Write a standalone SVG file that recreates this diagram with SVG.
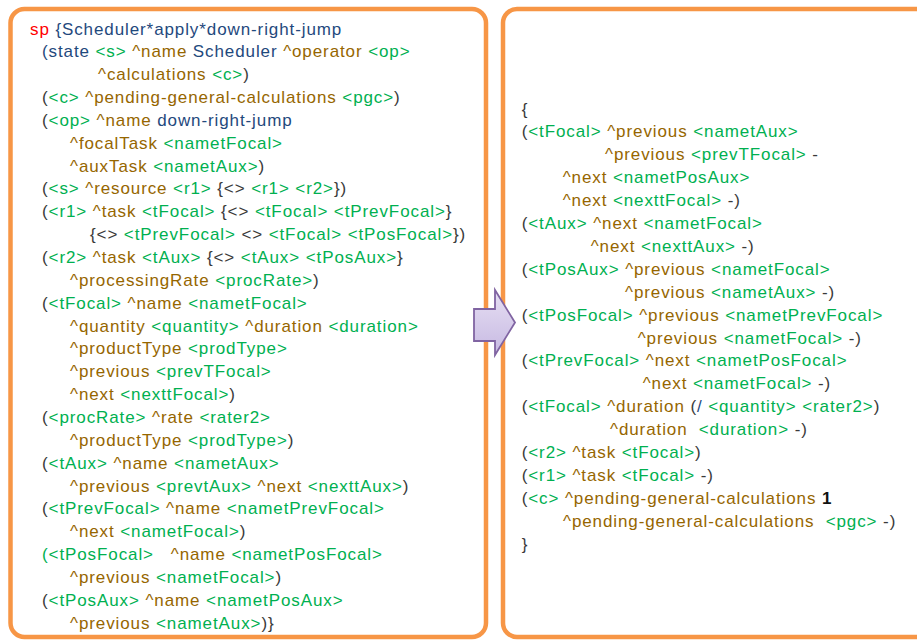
<svg xmlns="http://www.w3.org/2000/svg" width="917" height="641" viewBox="0 0 917 641">
<style>
text{font-family:"Liberation Sans",Arial,sans-serif;font-size:17px;letter-spacing:0.9px;fill:#3a3a3a;white-space:pre}
.k{fill:#3a3a3a}.g{fill:#00B050}.b{fill:#966600}.n{fill:#1F497D}.r{fill:#FF0000}.blk{fill:#111111;font-weight:bold}
.panel{fill:#ffffff;stroke:#F79646;stroke-width:4.5}
</style>
<defs>
<linearGradient id="ag" x1="0" y1="0" x2="0" y2="1">
<stop offset="0" stop-color="#E6DFF3"/>
<stop offset="1" stop-color="#C7B9E2"/>
</linearGradient>
</defs>
<rect width="917" height="641" fill="#ffffff"/>
<g id="panel-left">
<rect class="panel" x="10.5" y="9" width="475.5" height="628" rx="14"/>
<text xml:space="preserve" x="30" y="34.5"><tspan class="r">sp</tspan><tspan class="n"> {Scheduler*apply*down-right-jump</tspan></text>
<text xml:space="preserve" x="42" y="57.35"><tspan class="n">(state </tspan><tspan class="g">&lt;s&gt;</tspan><tspan class="b"> ^name </tspan><tspan class="n">Scheduler </tspan><tspan class="b">^operator </tspan><tspan class="g">&lt;op&gt;</tspan></text>
<text xml:space="preserve" x="98" y="80.2"><tspan class="b">^calculations </tspan><tspan class="g">&lt;c&gt;</tspan><tspan class="k">)</tspan></text>
<text xml:space="preserve" x="42" y="103.05"><tspan class="k">(</tspan><tspan class="g">&lt;c&gt;</tspan><tspan class="b"> ^pending-general-calculations </tspan><tspan class="g">&lt;pgc&gt;</tspan><tspan class="k">)</tspan></text>
<text xml:space="preserve" x="42" y="125.9"><tspan class="k">(</tspan><tspan class="g">&lt;op&gt;</tspan><tspan class="b"> ^name </tspan><tspan class="n">down-right-jump</tspan></text>
<text xml:space="preserve" x="70" y="148.75"><tspan class="b">^focalTask </tspan><tspan class="g">&lt;nametFocal&gt;</tspan></text>
<text xml:space="preserve" x="70" y="171.6"><tspan class="b">^auxTask </tspan><tspan class="g">&lt;nametAux&gt;</tspan><tspan class="k">)</tspan></text>
<text xml:space="preserve" x="42" y="194.45"><tspan class="k">(</tspan><tspan class="g">&lt;s&gt;</tspan><tspan class="b"> ^resource </tspan><tspan class="g">&lt;r1&gt;</tspan><tspan class="k"> {&lt;&gt; </tspan><tspan class="g">&lt;r1&gt; &lt;r2&gt;</tspan><tspan class="k">})</tspan></text>
<text xml:space="preserve" x="42" y="217.3"><tspan class="k">(</tspan><tspan class="g">&lt;r1&gt;</tspan><tspan class="b"> ^task </tspan><tspan class="g">&lt;tFocal&gt;</tspan><tspan class="k"> {&lt;&gt; </tspan><tspan class="g">&lt;tFocal&gt; &lt;tPrevFocal&gt;</tspan><tspan class="k">}</tspan></text>
<text xml:space="preserve" x="90" y="240.15"><tspan class="k">{&lt;&gt; </tspan><tspan class="g">&lt;tPrevFocal&gt;</tspan><tspan class="k"> &lt;&gt; </tspan><tspan class="g">&lt;tFocal&gt; &lt;tPosFocal&gt;</tspan><tspan class="k">})</tspan></text>
<text xml:space="preserve" x="42" y="263"><tspan class="k">(</tspan><tspan class="g">&lt;r2&gt;</tspan><tspan class="b"> ^task </tspan><tspan class="g">&lt;tAux&gt;</tspan><tspan class="k"> {&lt;&gt; </tspan><tspan class="g">&lt;tAux&gt; &lt;tPosAux&gt;</tspan><tspan class="k">}</tspan></text>
<text xml:space="preserve" x="70" y="285.85"><tspan class="b">^processingRate </tspan><tspan class="g">&lt;procRate&gt;</tspan><tspan class="k">)</tspan></text>
<text xml:space="preserve" x="42" y="308.7"><tspan class="k">(</tspan><tspan class="g">&lt;tFocal&gt;</tspan><tspan class="b"> ^name </tspan><tspan class="g">&lt;nametFocal&gt;</tspan></text>
<text xml:space="preserve" x="70" y="331.55"><tspan class="b">^quantity </tspan><tspan class="g">&lt;quantity&gt;</tspan><tspan class="b"> ^duration </tspan><tspan class="g">&lt;duration&gt;</tspan></text>
<text xml:space="preserve" x="70" y="354.4"><tspan class="b">^productType </tspan><tspan class="g">&lt;prodType&gt;</tspan></text>
<text xml:space="preserve" x="70" y="377.25"><tspan class="b">^previous </tspan><tspan class="g">&lt;prevTFocal&gt;</tspan></text>
<text xml:space="preserve" x="70" y="400.1"><tspan class="b">^next </tspan><tspan class="g">&lt;nexttFocal&gt;</tspan><tspan class="k">)</tspan></text>
<text xml:space="preserve" x="42" y="422.95"><tspan class="k">(</tspan><tspan class="g">&lt;procRate&gt;</tspan><tspan class="b"> ^rate </tspan><tspan class="g">&lt;rater2&gt;</tspan></text>
<text xml:space="preserve" x="70" y="445.8"><tspan class="b">^productType </tspan><tspan class="g">&lt;prodType&gt;</tspan><tspan class="k">)</tspan></text>
<text xml:space="preserve" x="42" y="468.65"><tspan class="k">(</tspan><tspan class="g">&lt;tAux&gt;</tspan><tspan class="b"> ^name </tspan><tspan class="g">&lt;nametAux&gt;</tspan></text>
<text xml:space="preserve" x="70" y="491.5"><tspan class="b">^previous </tspan><tspan class="g">&lt;prevtAux&gt;</tspan><tspan class="b"> ^next </tspan><tspan class="g">&lt;nexttAux&gt;</tspan><tspan class="k">)</tspan></text>
<text xml:space="preserve" x="42" y="514.35"><tspan class="k">(</tspan><tspan class="g">&lt;tPrevFocal&gt;</tspan><tspan class="b"> ^name </tspan><tspan class="g">&lt;nametPrevFocal&gt;</tspan></text>
<text xml:space="preserve" x="70" y="537.2"><tspan class="b">^next </tspan><tspan class="g">&lt;nametFocal&gt;</tspan><tspan class="k">)</tspan></text>
<text xml:space="preserve" x="42" y="560.05"><tspan class="g">(&lt;tPosFocal&gt;</tspan><tspan class="b">   ^name </tspan><tspan class="g">&lt;nametPosFocal&gt;</tspan></text>
<text xml:space="preserve" x="70" y="582.9"><tspan class="b">^previous </tspan><tspan class="g">&lt;nametFocal&gt;</tspan><tspan class="k">)</tspan></text>
<text xml:space="preserve" x="42" y="605.75"><tspan class="k">(</tspan><tspan class="g">&lt;tPosAux&gt;</tspan><tspan class="b"> ^name </tspan><tspan class="g">&lt;nametPosAux&gt;</tspan></text>
<text xml:space="preserve" x="70" y="628.6"><tspan class="b">^previous </tspan><tspan class="g">&lt;nametAux&gt;</tspan><tspan class="k">)}</tspan></text>
</g>
<g id="panel-right">
<rect class="panel" x="503" y="9" width="430" height="628" rx="14"/>
<text xml:space="preserve" x="521.7" y="114.5"><tspan class="k">{</tspan></text>
<text xml:space="preserve" x="521.7" y="137.4"><tspan class="k">(</tspan><tspan class="g">&lt;tFocal&gt;</tspan><tspan class="b"> ^previous </tspan><tspan class="g">&lt;nametAux&gt;</tspan></text>
<text xml:space="preserve" x="605" y="160.3"><tspan class="b">^previous </tspan><tspan class="g">&lt;prevTFocal&gt;</tspan><tspan class="k"> -</tspan></text>
<text xml:space="preserve" x="562.7" y="183.2"><tspan class="b">^next </tspan><tspan class="g">&lt;nametPosAux&gt;</tspan></text>
<text xml:space="preserve" x="562.7" y="206.1"><tspan class="b">^next </tspan><tspan class="g">&lt;nexttFocal&gt;</tspan><tspan class="k"> -)</tspan></text>
<text xml:space="preserve" x="521.7" y="229"><tspan class="k">(</tspan><tspan class="g">&lt;tAux&gt;</tspan><tspan class="b"> ^next </tspan><tspan class="g">&lt;nametFocal&gt;</tspan></text>
<text xml:space="preserve" x="590.7" y="251.9"><tspan class="b">^next </tspan><tspan class="g">&lt;nexttAux&gt;</tspan><tspan class="k"> -)</tspan></text>
<text xml:space="preserve" x="521.7" y="274.8"><tspan class="k">(</tspan><tspan class="g">&lt;tPosAux&gt;</tspan><tspan class="b"> ^previous </tspan><tspan class="g">&lt;nametFocal&gt;</tspan></text>
<text xml:space="preserve" x="625" y="297.7"><tspan class="b">^previous </tspan><tspan class="g">&lt;nametAux&gt;</tspan><tspan class="k"> -)</tspan></text>
<text xml:space="preserve" x="521.7" y="320.6"><tspan class="k">(</tspan><tspan class="g">&lt;tPosFocal&gt;</tspan><tspan class="b"> ^previous </tspan><tspan class="g">&lt;nametPrevFocal&gt;</tspan></text>
<text xml:space="preserve" x="637.7" y="343.5"><tspan class="b">^previous </tspan><tspan class="g">&lt;nametFocal&gt;</tspan><tspan class="k"> -)</tspan></text>
<text xml:space="preserve" x="521.7" y="366.4"><tspan class="k">(</tspan><tspan class="g">&lt;tPrevFocal&gt;</tspan><tspan class="b"> ^next </tspan><tspan class="g">&lt;nametPosFocal&gt;</tspan></text>
<text xml:space="preserve" x="642.7" y="389.3"><tspan class="b">^next </tspan><tspan class="g">&lt;nametFocal&gt;</tspan><tspan class="k"> -)</tspan></text>
<text xml:space="preserve" x="521.7" y="412.2"><tspan class="k">(</tspan><tspan class="g">&lt;tFocal&gt;</tspan><tspan class="b"> ^duration </tspan><tspan class="k">(</tspan><tspan class="n">/</tspan><tspan class="g"> &lt;quantity&gt; &lt;rater2&gt;</tspan><tspan class="k">)</tspan></text>
<text xml:space="preserve" x="610" y="435.1"><tspan class="b">^duration  </tspan><tspan class="g">&lt;duration&gt;</tspan><tspan class="k"> -)</tspan></text>
<text xml:space="preserve" x="521.7" y="458"><tspan class="k">(</tspan><tspan class="g">&lt;r2&gt;</tspan><tspan class="b"> ^task </tspan><tspan class="g">&lt;tFocal&gt;</tspan><tspan class="k">)</tspan></text>
<text xml:space="preserve" x="521.7" y="480.9"><tspan class="k">(</tspan><tspan class="g">&lt;r1&gt;</tspan><tspan class="b"> ^task </tspan><tspan class="g">&lt;tFocal&gt;</tspan><tspan class="k"> -)</tspan></text>
<text xml:space="preserve" x="521.7" y="503.8"><tspan class="k">(</tspan><tspan class="g">&lt;c&gt;</tspan><tspan class="b"> ^pending-general-calculations </tspan><tspan class="blk">1</tspan></text>
<text xml:space="preserve" x="563" y="526.7"><tspan class="b">^pending-general-calculations  </tspan><tspan class="g">&lt;pgc&gt;</tspan><tspan class="k"> -)</tspan></text>
<text xml:space="preserve" x="521.7" y="549.6"><tspan class="k">}</tspan></text>
</g>
<g id="connectors">
<polygon points="474,309 495,309 495,290 515,322.5 495,355 495,341 474,341" fill="url(#ag)" stroke="#8064A2" stroke-width="1.8" stroke-linejoin="miter"/>
</g>
</svg>
